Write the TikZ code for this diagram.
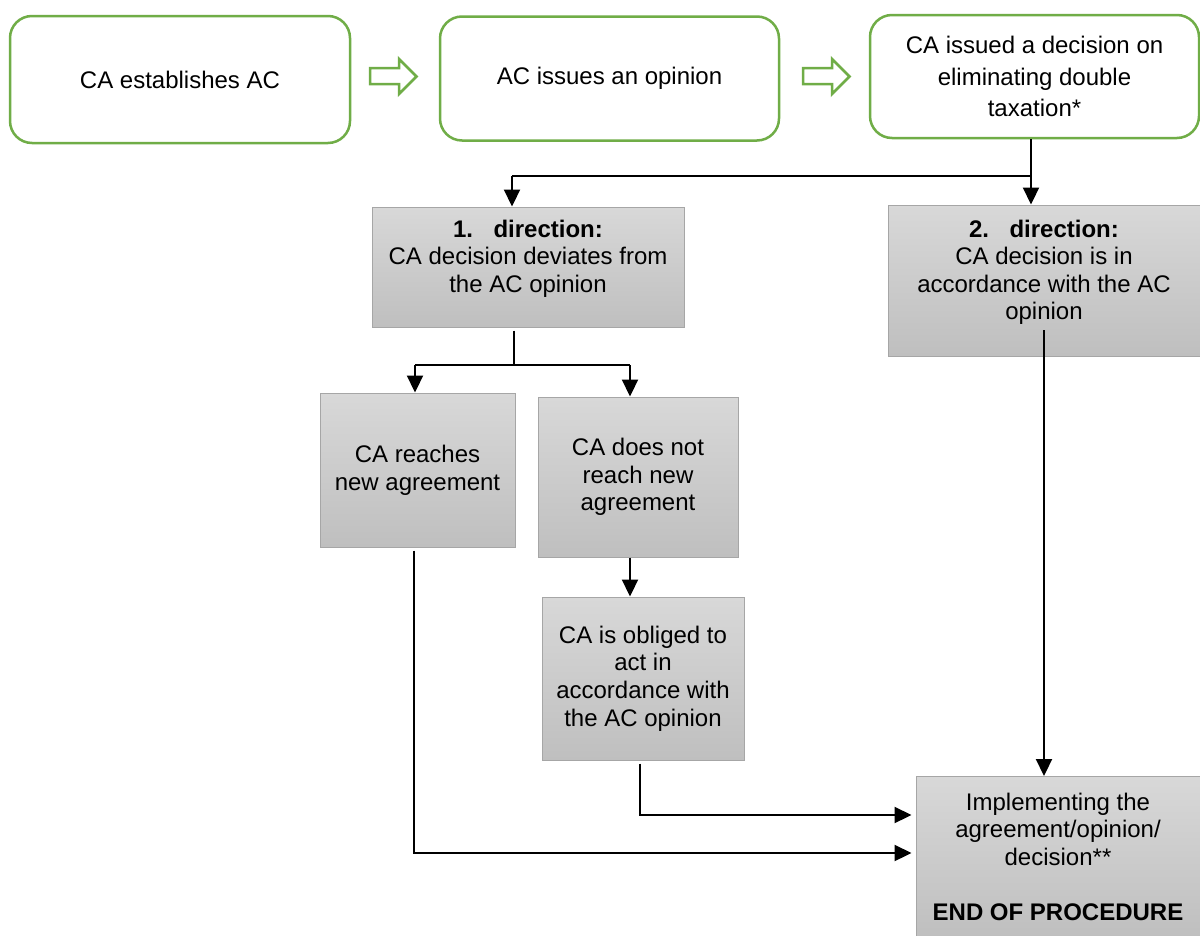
\documentclass[tikz,border=0pt]{standalone}
\usepackage{fontspec}
\setmainfont{Liberation Sans}
\usetikzlibrary{arrows.meta,calc}
\definecolor{ggreen}{RGB}{112,173,71}
\definecolor{gtop}{RGB}{216,216,216}
\definecolor{gbot}{RGB}{191,191,191}
\definecolor{gborder}{RGB}{166,166,166}
\tikzset{
  txt/.style={font=\fontsize{24}{27.6}\selectfont, align=center, inner sep=0pt},
  gnode/.style={draw=ggreen, line width=2.5pt, rounded corners=22pt, align=center,
     font=\fontsize{24}{27.6}\selectfont, inner sep=0pt},
  gbox/.style={draw=gborder, line width=1pt, top color=gtop, bottom color=gbot,
     align=center, font=\fontsize{24}{27.6}\selectfont, inner sep=0pt},
  hollow/.style={draw=ggreen, line width=2.5pt, fill=white},
  arr/.style={line width=2.2pt, -{Triangle[length=17pt,width=16pt]}},
  thinl/.style={line width=1.4pt},
  medl/.style={line width=1.8pt},
}
\begin{document}
\begin{tikzpicture}[x=1pt,y=-1pt]
\useasboundingbox (0,0) rectangle (1200,935);
\fill[white] (0,0) rectangle (1200,935);

% top green boxes
\node[gnode, minimum width=340pt, minimum height=127pt] (A) at (180,79.5) {CA establishes AC};
\node[gnode, minimum width=339pt, minimum height=124pt] (B) at (609.5,78.5) {AC issues an opinion};
\node[gnode, minimum width=329pt, minimum height=123pt, font=\fontsize{24}{31.5}\selectfont] (C) at (1034.5,76.5)
  {CA issued a decision on\\eliminating double\\taxation*};

% hollow arrows
\draw[hollow] (370,68) -- (399,68) -- (399,59) -- (416.5,76.5) -- (399,94) -- (399,84) -- (370,84) -- cycle;
\begin{scope}[shift={(433,0)}]
\draw[hollow] (370,68) -- (399,68) -- (399,59) -- (416.5,76.5) -- (399,94) -- (399,84) -- (370,84) -- cycle;
\end{scope}

% gray boxes
\node[gbox, minimum width=312pt, minimum height=120pt] (d1) at (528,267) {};
\node[txt, anchor=north] (d1t) at ([yshift=-13pt]d1.north)
  {\textbf{1.\hspace{0.85em}direction:}\\CA decision deviates from\\the AC opinion};
\node[gbox, minimum width=312pt, minimum height=151pt] (d2) at (1044,280.5) {};
\node[txt, anchor=north] (d2t) at ([yshift=-15pt]d2.north)
  {\textbf{2.\hspace{0.85em}direction:}\\CA decision is in\\accordance with the AC\\opinion};
\node[gbox, minimum width=195pt, minimum height=154pt] (r3) at (417.5,470) {CA reaches\\new agreement};
\node[gbox, minimum width=200pt, minimum height=160pt] (r4) at (638,477) {CA does not\\reach new\\agreement};
\node[gbox, minimum width=202pt, minimum height=163pt] (ob) at (643,678.5)
  {CA is obliged to\\act in\\accordance with\\the AC opinion};
\node[gbox, minimum width=284pt, minimum height=161pt] (impl) at (1058,857)
  {Implementing the\\agreement/opinion/\\decision**\\[27.6pt]\textbf{END OF PROCEDURE}};

% connector coordinates
\coordinate (j1) at (1031,176);
\coordinate (j2) at (512,176);
\coordinate (m1) at (514,365);
\coordinate (m2) at (415,365);
\coordinate (m3) at (630,365);
\coordinate (k1) at (640,815);
\coordinate (k2) at (414,853);
\coordinate (v2) at (1044,330);

% connectors
\draw[arr] (C.south -| j1) -- (d2.north -| j1);
\draw[thinl] (j1) -- (j2);
\draw[arr] (j2) -- (d1.north -| j2);

\draw[thinl] ([yshift=-3pt]d1.south -| m1) -- (m1);
\draw[thinl] (m2) -- (m3);
\draw[arr] (m2) -- (r3.north -| m2);
\draw[arr] (m3) -- (r4.north -| m3);

\draw[arr] (r4.south -| m3) -- (ob.north -| m3);

\draw[arr] (v2) -- (impl.north -| v2);

\draw[thinl] ([yshift=-3pt]ob.south -| k1) -- (k1);
\draw[arr, shorten >=4pt] ([xshift=-0.7pt]k1) -- (k1 -| impl.west);

\draw[medl] ([yshift=-3pt]r3.south -| k2) -- (k2);
\draw[arr, shorten >=4pt] ([xshift=-0.9pt]k2) -- (k2 -| impl.west);
\end{tikzpicture}
\end{document}
